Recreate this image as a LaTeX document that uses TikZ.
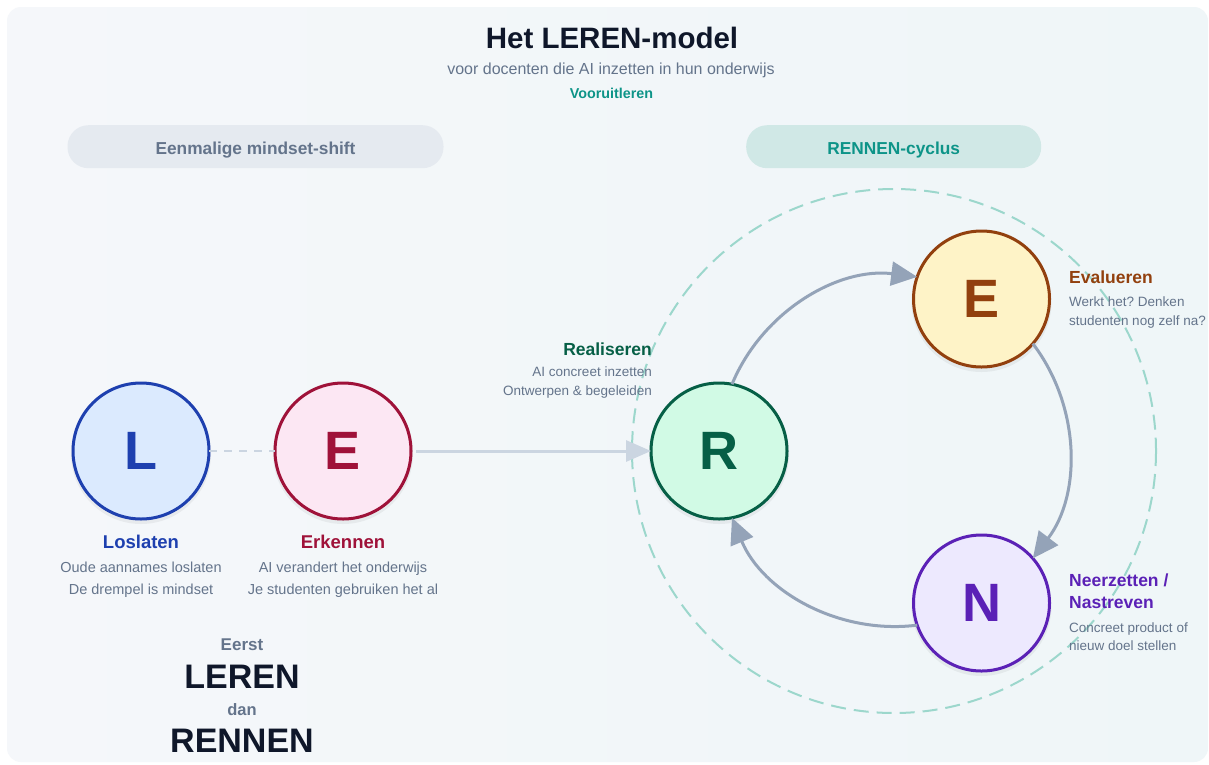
\documentclass[tikz,border=0pt]{standalone}
\usepackage{fontspec}
\setmainfont{Liberation Sans}
\usetikzlibrary{arrows.meta}
\frenchspacing

\definecolor{ink}{HTML}{0F172A}
\definecolor{slate}{HTML}{64748B}
\definecolor{tealtext}{HTML}{0D9488}
\definecolor{cardA}{HTML}{F5F7FA}
\definecolor{cardB}{HTML}{EFF6F8}
\definecolor{pillgray}{HTML}{E5EAF0}
\definecolor{pillteal}{HTML}{D0E8E6}
\definecolor{ringcol}{HTML}{9CD7CC}
\definecolor{lightline}{HTML}{CBD5E1}
\definecolor{cyclecol}{HTML}{94A3B8}
\definecolor{lblue}{HTML}{1E40AF}
\definecolor{lbluefill}{HTML}{DBEAFE}
\definecolor{erose}{HTML}{9F1239}
\definecolor{erosefill}{HTML}{FCE7F3}
\definecolor{rgreen}{HTML}{065F46}
\definecolor{rgreenfill}{HTML}{D1FAE5}
\definecolor{ebrown}{HTML}{92400E}
\definecolor{eamberfill}{HTML}{FEF3C7}
\definecolor{npurple}{HTML}{5B21B6}
\definecolor{npurplefill}{HTML}{EDE9FE}

\begin{document}
\begin{tikzpicture}[x=1pt,y=-1pt,
  every node/.style={inner sep=0pt},
  letter/.style={circle, minimum size=136pt, inner sep=0pt, outer sep=0pt,
    line width=3pt, font=\bfseries\fontsize{54}{60}\selectfont},
  halo/.style={fill=black, opacity=0.05},
  pill/.style={rounded corners=21pt, minimum width=376pt, minimum height=43pt},
  pilltext/.style={anchor=base, font=\bfseries\fontsize{17.3}{20}\selectfont},
  headL/.style={anchor=base, font=\bfseries\fontsize{18.5}{22}\selectfont},
  descL/.style={anchor=base, text=slate, font=\fontsize{14.5}{18}\selectfont},
  headR/.style={font=\bfseries\fontsize{17.5}{21}\selectfont},
  descR/.style={text=slate, font=\fontsize{13.5}{16}\selectfont},
  cyc/.style={draw=cyclecol, line width=3pt, -{Triangle[length=26pt,width=24pt]}},
]
\useasboundingbox (0,0) rectangle (1209,764);
\fill[white] (0,0) rectangle (1209,764);
% card background
\shade[left color=cardA, right color=cardB, rounded corners=14pt] (7,7) rectangle (1208,762);

% heading
\node[anchor=base, text=ink, font=\bfseries\fontsize{29.5}{34}\selectfont] (title) at (612,48) {Het LEREN-model};
\node[anchor=base, text=slate, font=\fontsize{16}{19}\selectfont] (subtitle) at (611,74) {voor docenten die AI inzetten in hun onderwijs};
\node[anchor=base, text=tealtext, font=\bfseries\fontsize{14.3}{17}\selectfont] (brand) at (611.5,98) {Vooruitleren};

% phase pills
\node[pill, fill=pillgray] (pillL) at (255.5,146.7) {};
\node[pilltext, text=slate] (pillLtext) at (255.5,154) {Eenmalige mindset-shift};
\node[pill, fill=pillteal, minimum width=295pt] (pillR) at (893.7,146.7) {};
\node[pilltext, text=tealtext] (pillRtext) at (893.7,154) {RENNEN-cyclus};

% dashed ring around the cycle
\coordinate (C) at (894,451);
\draw[ringcol, line width=2pt, dash pattern=on 15pt off 8pt] (C) circle[radius=262];

% soft shadows under the letter circles
\foreach \cx/\cy in {141/451, 343/451, 719/451, 981.5/299, 981.5/603}{
  \fill[halo] (\cx,\cy+3) circle[radius=70];
}

% letter circles
\node[letter, draw=lblue, fill=lbluefill, text=lblue] (L) at (141,451) {L};
\node[letter, draw=erose, fill=erosefill, text=erose] (El) at (343,451) {E};
\node[letter, draw=rgreen, fill=rgreenfill, text=rgreen] (R) at (719,451) {R};
\node[letter, draw=ebrown, fill=eamberfill, text=ebrown] (Er) at (981.5,299) {E};
\node[letter, draw=npurple, fill=npurplefill, text=npurple] (N) at (981.5,603) {N};

% connectors
\draw[lightline, line width=2.5pt, dash pattern=on 8.3pt off 6.7pt] (L.east) -- (El.west);
\draw[lightline, line width=3pt, shorten <=5pt, -{Triangle[length=25pt,width=21pt]}] (El.east) -- (R.west);
\draw[cyc] (R.79) .. controls (762.5,310.9) and (838.5,267.0) .. (Er.161);
\draw[cyc] (Er.-41) .. controls (1081.1,407.1) and (1081.1,494.9) .. (N.41);
\draw[cyc] (N.199) .. controls (838.4,635.0) and (762.5,591.1) .. (R.-79);

% left labels
\node[headL, text=lblue] (tLhead) at (141,548) {Loslaten};
\node[descL] (tL1) at (141,572.5) {Oude aannames loslaten};
\node[descL] (tL2) at (141,594) {De drempel is mindset};
\node[headL, text=erose] (tEhead) at (343,548) {Erkennen};
\node[descL] (tE1) at (343,572.5) {AI verandert het onderwijs};
\node[descL] (tE2) at (343,594) {Je studenten gebruiken het al};

% motto
\node[anchor=base, text=slate, font=\bfseries\fontsize{17}{20}\selectfont] (eerst) at (242,650.5) {Eerst};
\node[anchor=base, text=ink, font=\bfseries\fontsize{34}{40}\selectfont] (leren) at (242,688) {LEREN};
\node[anchor=base, text=slate, font=\bfseries\fontsize{16.5}{20}\selectfont] (dan) at (242,715) {dan};
\node[anchor=base, text=ink, font=\bfseries\fontsize{34}{40}\selectfont] (rennen) at (242,752) {RENNEN};

% cycle labels
\node[headR, anchor=base east, text=rgreen] (tRhead) at (652,355) {Realiseren};
\node[descR, anchor=base east] (tR1) at (652,376) {AI concreet inzetten};
\node[descR, anchor=base east] (tR2) at (652,395) {Ontwerpen \& begeleiden};

\node[headR, anchor=base west, text=ebrown] (tEv) at (1069,283) {Evalueren};
\node[descR, anchor=base west] (tEv1) at (1069,306.5) {Werkt het? Denken};
\node[descR, anchor=base west] (tEv2) at (1069,325) {studenten nog zelf na?};

\node[headR, anchor=base west, text=npurple] (tN) at (1069,586) {Neerzetten /};
\node[headR, anchor=base west, text=npurple] (tN2) at (1069,608.5) {Nastreven};
\node[descR, anchor=base west] (tN3) at (1069,632) {Concreet product of};
\node[descR, anchor=base west] (tN4) at (1069,650.5) {nieuw doel stellen};
\end{tikzpicture}
\end{document}
